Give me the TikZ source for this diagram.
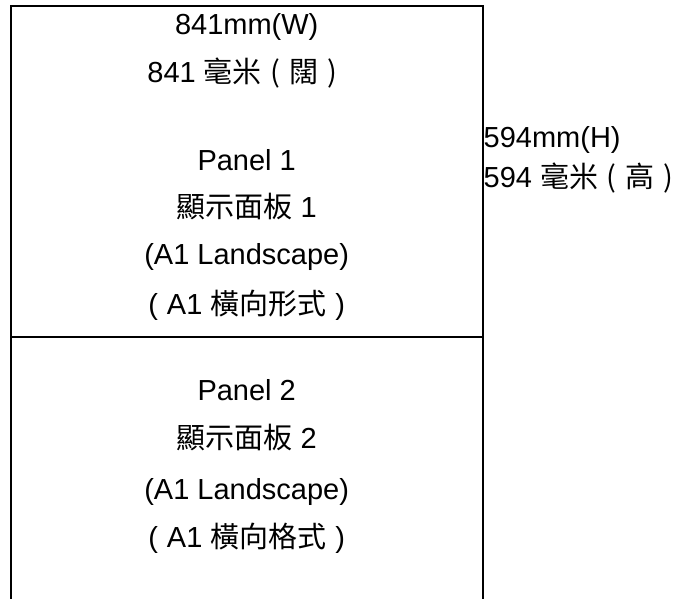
\documentclass[tikz,border=0pt]{standalone}
\usepackage{fontspec}
\setmainfont{Liberation Sans}
\newfontfamily\cjk{Noto Sans CJK TC}
\newcommand{\flp}{\makebox[0.95em][c]{(}}
\newcommand{\frp}{\makebox[0.95em][c]{)}}
\usetikzlibrary{positioning}
\tikzset{
  frame/.style={line width=2pt, black},
  lbl/.style={inner sep=0pt, anchor=base, font=\fontsize{29}{34}\selectfont},
  sidelbl/.style={lbl, anchor=base west}
}

\begin{document}
\begin{tikzpicture}[x=1pt, y=-1pt]

    \useasboundingbox (0,0) rectangle (678,599);

    % outline of the two panels
    \coordinate (tl) at (11,6);
    \coordinate (tr) at (482.5,6);
    \coordinate (bl) at (11,599);
    \coordinate (br) at (482.5,599);
    \coordinate (ml) at (11,336.7);
    \coordinate (mr) at (482.5,336.7);
    \draw[frame] (bl) -- (tl) -- (tr) -- (br);
    \draw[frame] (ml) -- (mr);

    % width
    \node[lbl] (w1) at (246.7,35) {841mm(W)};
    \node[lbl] (w2) at (246.7,83) {841 {\cjk 毫米\flp 闊\frp}};

    % panel 1
    \node[lbl] (p1a) at (246.7,171) {Panel 1};
    \node[lbl] (p1b) at (246.7,218) {{\cjk 顯示面板} 1};
    \node[lbl] (p1c) at (246.7,265) {(A1 Landscape)};
    \node[lbl] (p1d) at (246.7,314) {\flp A1 {\cjk 橫向形式}\frp};

    % panel 2
    \node[lbl] (p2a) at (246.7,400) {Panel 2};
    \node[lbl] (p2b) at (246.7,448) {{\cjk 顯示面板} 2};
    \node[lbl] (p2c) at (246.7,499) {(A1 Landscape)};
    \node[lbl] (p2d) at (246.7,547) {\flp A1 {\cjk 橫向格式}\frp};

    % height
    \node[sidelbl] (h1) at (483.5,148) {594mm(H)};
    \node[sidelbl] (h2) at (483.5,188) {594 {\cjk 毫米\flp 高\frp}};

\end{tikzpicture}
\end{document}
